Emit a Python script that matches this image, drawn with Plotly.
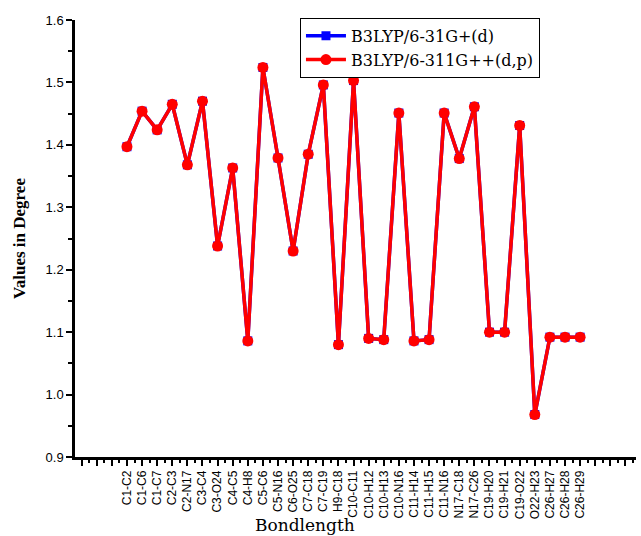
import plotly.graph_objects as go

bonds = ["C1-C2", "C1-C6", "C1-C7", "C2-C3", "C2-N17", "C3-C4", "C3-O24", "C4-C5", "C4-H8",
         "C5-C6", "C5-N16", "C6-O25", "C7-C18", "C7-C19", "H9-C18", "C10-C11", "C10-H12",
         "C10-H13", "C10-N16", "C11-H14", "C11-H15", "C11-N16", "N17-C18", "N17-C26",
         "C19-H20", "C19-H21", "C19-O22", "O22-H23", "C26-H27", "C26-H28", "C26-H29"]

b3lyp_631 = [1.397, 1.454, 1.424, 1.465, 1.368, 1.470, 1.238, 1.363, 1.086,
             1.524, 1.379, 1.230, 1.385, 1.496, 1.080, 1.503, 1.090,
             1.088, 1.451, 1.086, 1.088, 1.451, 1.378, 1.461,
             1.100, 1.100, 1.431, 0.968, 1.092, 1.092, 1.092]

b3lyp_6311 = [1.397, 1.454, 1.424, 1.465, 1.368, 1.470, 1.238, 1.363, 1.086,
              1.524, 1.379, 1.230, 1.385, 1.496, 1.080, 1.503, 1.090,
              1.088, 1.451, 1.086, 1.088, 1.451, 1.378, 1.461,
              1.100, 1.100, 1.431, 0.968, 1.092, 1.092, 1.092]

idx = list(range(len(bonds)))
tick_vals = list(range(-3, 34))
tick_text = [bonds[v] if 0 <= v < len(bonds) else "" for v in tick_vals]

fig = go.Figure()
fig.add_trace(go.Scatter(x=idx, y=b3lyp_631, mode="lines+markers", name="B3LYP/6-31G+(d)",
                         line=dict(color="#0000ff", width=3.5),
                         marker=dict(symbol="square", size=9, color="#0000ff")))
fig.add_trace(go.Scatter(x=idx, y=b3lyp_6311, mode="lines+markers", name="B3LYP/6-311G++(d,p)",
                         line=dict(color="#ff0000", width=3.5),
                         marker=dict(symbol="circle", size=11, color="#ff0000")))

fig.update_layout(
    width=641, height=536,
    margin=dict(l=75, r=5, t=20, b=79),
    paper_bgcolor="white", plot_bgcolor="white",
    showlegend=True,
    legend=dict(x=0.401, y=1.005, xanchor="left", yanchor="top",
                bordercolor="black", borderwidth=1, bgcolor="white",
                font=dict(family="DejaVu Serif", size=16, color="black"),
                tracegroupgap=0, itemwidth=40),
    xaxis=dict(range=[-3.44, 33.7], tickmode="array", tickvals=tick_vals, ticktext=tick_text,
               tickangle=-90, ticks="outside", ticklen=6, tickwidth=2, tickcolor="black",
               showline=True, linecolor="black", linewidth=2.5, showgrid=False, zeroline=False,
               tickfont=dict(family="Liberation Sans", size=12, color="black"),
               minor=dict(tickmode="linear", tick0=0.5, dtick=1, ticks="outside", ticklen=3,
                          tickwidth=1.5, tickcolor="black", showgrid=False)),
    yaxis=dict(range=[0.9, 1.6], tickmode="linear", tick0=0.9, dtick=0.1, tickformat=".1f",
               ticks="outside", ticklen=6, tickwidth=2, tickcolor="black",
               showline=True, linecolor="black", linewidth=2.5, showgrid=False, zeroline=False,
               tickfont=dict(family="Liberation Sans", size=13, color="black"),
               title=dict(text="<b>Values in Degree</b>", standoff=16,
                          font=dict(family="Liberation Serif", size=17, color="black")),
               minor=dict(tickmode="linear", tick0=0.95, dtick=0.1, ticks="outside", ticklen=4,
                          tickwidth=1.5, tickcolor="black", showgrid=False)),
)

fig.add_annotation(text="Bondlength", xref="paper", yref="paper", x=0.41, y=-0.156,
                   xanchor="center", yanchor="middle", showarrow=False,
                   font=dict(family="DejaVu Serif", size=17, color="black"))

fig.write_html("out.html")
